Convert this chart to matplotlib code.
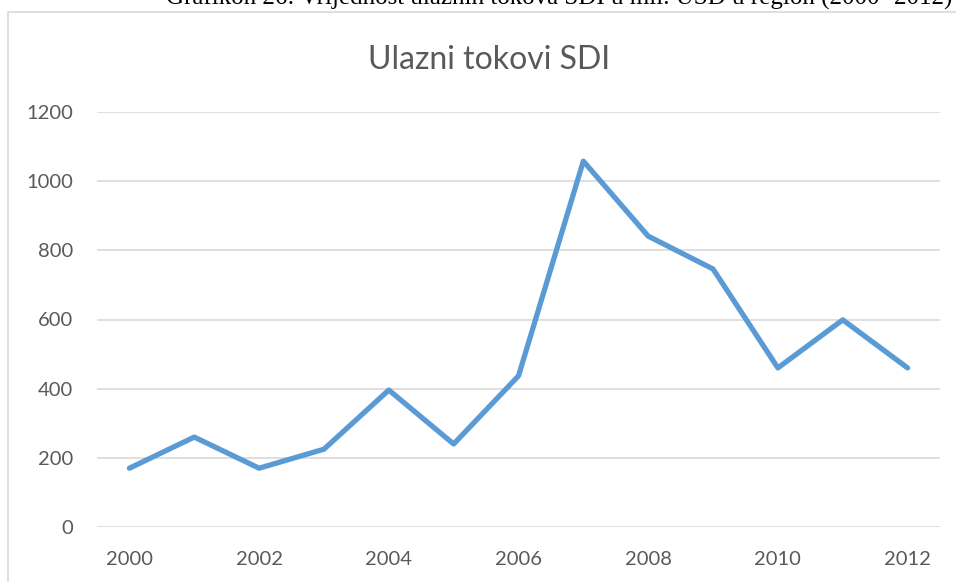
import matplotlib
matplotlib.use("Agg")
import matplotlib.pyplot as plt
from matplotlib.patches import Rectangle

years = [2000, 2001, 2002, 2003, 2004, 2005, 2006, 2007, 2008, 2009, 2010, 2011, 2012]
values = [170, 260, 170, 225, 396, 240, 437, 1058, 841, 746, 460, 599, 460]
xticks = [2000, 2002, 2004, 2006, 2008, 2010, 2012]
yticks = [0, 200, 400, 600, 800, 1000, 1200]
title = "Ulazni tokovi SDI"
caption = "Grafikon 26: Vrijednost ulaznih tokova SDI u mil. USD u region (2000- 2012)"

W, H = 956, 582
fig = plt.figure(figsize=(W / 100, H / 100), dpi=100)
fig.patch.set_facecolor("white")

# caption (cut off at top of image, as in the reference)
fig.text(952 / W, 1 - 5 / H, caption, ha="right", va="baseline",
         fontsize=18, family="Liberation Serif", color="black")

# chart frame
fig.patches.append(Rectangle((8 / W, -0.1), 1.2, (H - 12) / H + 0.1,
                             transform=fig.transFigure, fill=False,
                             edgecolor="#D9D9D9", linewidth=1.2, zorder=0))

ax = fig.add_axes([97 / W, 1 - 527 / H, (940 - 97) / W, (527 - 112) / H])
ax.plot(years, values, color="#5B9BD5", linewidth=3.8, solid_capstyle="round",
        solid_joinstyle="round", zorder=3)
ax.set_xlim(1999.5, 2012.5)
ax.set_ylim(0, 1200)
ax.set_xticks(xticks)
ax.set_yticks(yticks)
ax.set_xticklabels([str(x) for x in xticks])
ax.set_yticklabels([str(y) for y in yticks])
for s in ax.spines.values():
    s.set_visible(False)
ax.grid(axis="y", color="#D9D9D9", linewidth=1.2)
ax.set_axisbelow(True)
ax.tick_params(axis="both", length=0, labelsize=14.5, labelcolor="#595959")
ax.tick_params(axis="y", pad=17)
ax.tick_params(axis="x", pad=17)
for lbl in ax.get_xticklabels() + ax.get_yticklabels():
    lbl.set_family("Lato")

fig.text(489 / W, 1 - 60 / H, title, ha="center", va="center",
         fontsize=23, family="Lato", fontweight="normal", color="#595959")

fig.savefig("out.png", dpi=100)
